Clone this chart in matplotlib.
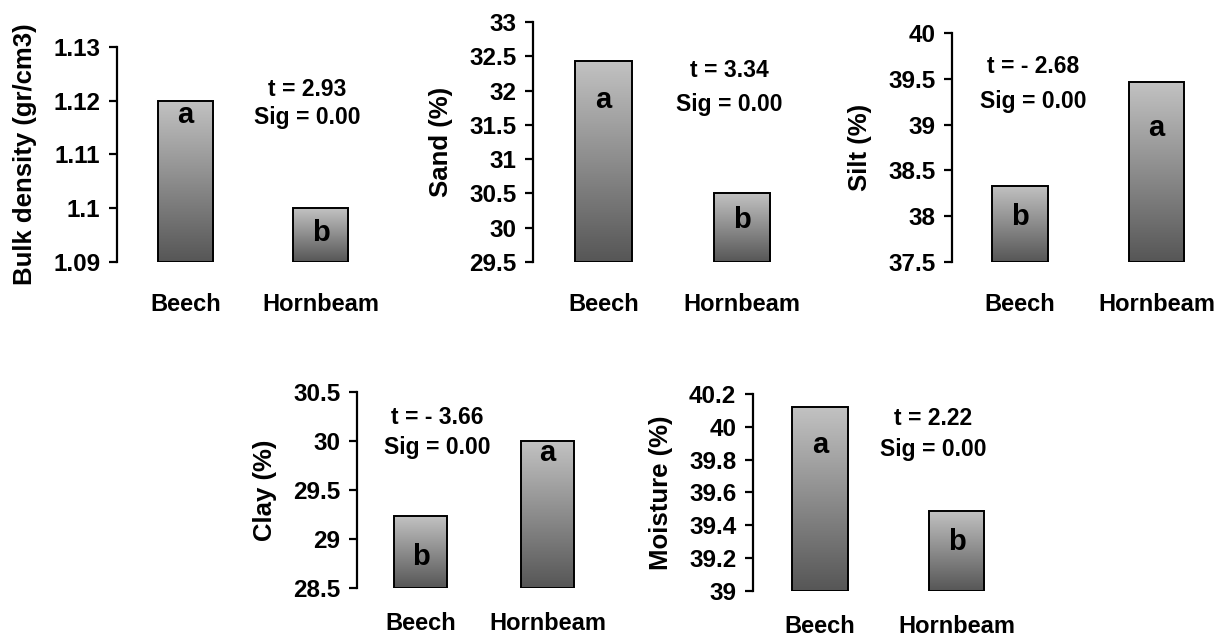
import numpy as np
import matplotlib
matplotlib.use("Agg")
import matplotlib.pyplot as plt

plt.rcParams["font.family"] = ["Liberation Sans", "DejaVu Sans"]
plt.rcParams["font.weight"] = "bold"

# -----------------------------------------------------------------------------
# Data
# -----------------------------------------------------------------------------
species = ["Beech", "Hornbeam"]

ylabels = ["Bulk density (gr/cm3)", "Sand (%)", "Silt (%)", "Clay (%)", "Moisture (%)"]
bulk_density = [1.120, 1.100]
sand = [32.43, 30.50]
silt = [38.33, 39.46]
clay = [29.23, 30.00]
moisture = [40.12, 39.49]
series = [bulk_density, sand, silt, clay, moisture]

# y axis ranges and tick steps
y_min = [1.09, 29.5, 37.5, 28.5, 39.0]
y_max = [1.13, 33.0, 40.0, 30.5, 40.2]
y_step = [0.01, 0.5, 0.5, 0.5, 0.2]

# significance letters per bar and where they sit (data y)
letters = [["a", "b"], ["a", "b"], ["b", "a"], ["b", "a"], ["a", "b"]]
letter_y = [[1.1173, 1.0954], [31.86, 30.11], [37.99, 38.96], [28.82, 29.88], [39.89, 39.30]]

# t-test annotation
t_text = ["t = 2.93", "t = 3.34", "t = - 2.68", "t = - 3.66", "t = 2.22"]
sig_text = ["Sig = 0.00"] * 5
t_x = [0.90, 0.91, 0.095, 0.13, 0.83]
t_y = [1.1220, 32.29, 39.63, 30.24, 40.05]
sig_y = [1.1168, 31.79, 39.25, 29.93, 39.86]

# -----------------------------------------------------------------------------
# Layout in pixels: spine x, beech centre, hornbeam centre, axis top, axis bottom
# -----------------------------------------------------------------------------
W, H = 1225, 638
layout = [
    (117, 185.5, 320.5, 47, 262),
    (533, 603.5, 742.0, 22, 262),
    (952, 1020.0, 1156.5, 33, 262),
    (357, 420.5, 547.5, 392, 588),
    (753, 820.0, 956.5, 394, 591),
]
xpad = [22, 22, 22, 17, 17]

gradient = np.linspace(0, 1, 256).reshape(-1, 1)
cmap = matplotlib.colors.LinearSegmentedColormap.from_list("bargrey", ["#565656", "#c2c2c2"])

fig = plt.figure(figsize=(W / 100, H / 100), dpi=100)

for i, (spine, bc, hc, ytop, ybot) in enumerate(layout):
    unit = hc - bc
    width_px = hc + 0.62 * unit - spine
    ax = fig.add_axes([spine / W, 1 - ybot / H, width_px / W, (ybot - ytop) / H])

    vals = series[i]
    base = y_min[i]
    bars = ax.bar([0, 1], np.array(vals) - base, bottom=base, width=0.41,
                  facecolor="none", edgecolor="black", linewidth=1.4, zorder=3)
    for p in bars.patches:
        x0, y0 = p.get_x(), p.get_y()
        ax.imshow(gradient, origin="lower", cmap=cmap, aspect="auto", zorder=2,
                  extent=[x0, x0 + p.get_width(), y0, y0 + p.get_height()])

    for j in range(2):
        ax.text(j, letter_y[i][j], letters[i][j], ha="center", va="center",
                fontsize=21, fontweight="bold", zorder=4)

    ax.text(t_x[i], t_y[i], t_text[i], ha="center", va="center", fontsize=16.5, fontweight="bold")
    ax.text(t_x[i], sig_y[i], sig_text[i], ha="center", va="center", fontsize=16.5, fontweight="bold")

    left = (spine - bc) / unit
    ax.set_xlim(left, left + width_px / unit)
    ax.set_ylim(y_min[i], y_max[i])
    ticks = np.round(np.arange(y_min[i], y_max[i] + y_step[i] / 2, y_step[i]), 3)
    ax.set_yticks(ticks)
    ax.set_yticklabels(["%g" % v for v in ticks])
    ax.set_xticks([0, 1])
    ax.set_xticklabels(species)

    for s in ["top", "right", "bottom"]:
        ax.spines[s].set_visible(False)
    ax.spines["left"].set_linewidth(1.6)
    ax.tick_params(axis="y", direction="out", length=6, width=1.6, pad=6, labelsize=17.5)
    ax.tick_params(axis="x", length=0, pad=xpad[i], labelsize=17)

    ax.set_ylabel(ylabels[i], fontsize=18.5, fontweight="bold")
    ax.yaxis.set_label_coords(-80 / width_px, 0.5)

fig.savefig("out.png", dpi=100)
